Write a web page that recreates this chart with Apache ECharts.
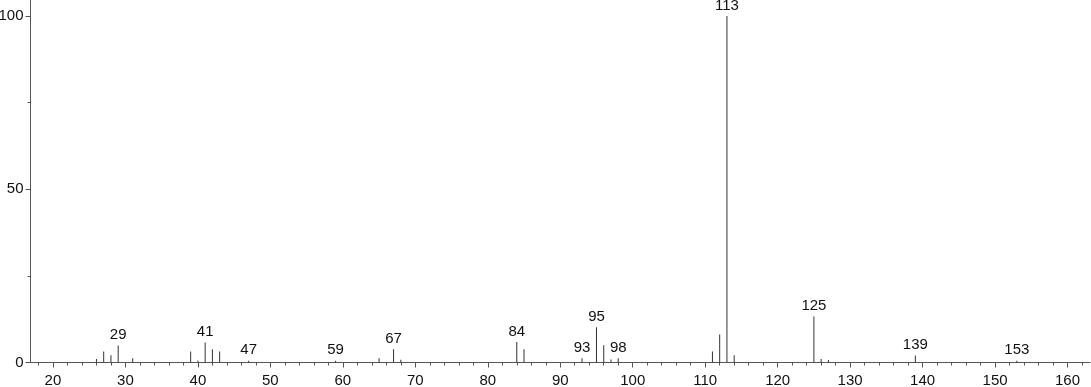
<!DOCTYPE html>
<html>
<head>
<meta charset="utf-8">
<script src="https://cdn.jsdelivr.net/npm/echarts@6/dist/echarts.min.js"></script>
<style>html,body{margin:0;padding:0;background:#fff;}#c{width:1091px;height:387px;}</style>
</head>
<body>
<div id="c"></div>
<script>
const mz = [26, 27, 28, 29, 31, 39, 40, 41, 42, 43, 47, 59, 65, 67, 68, 84, 85, 93, 95, 96, 97, 98, 111, 112, 113, 114, 125, 126, 127, 139, 153];
const intensity = [1.0, 3.2, 2.1, 4.9, 1.2, 3.2, 0.6, 5.8, 3.8, 3.2, 0.5, 0.5, 1.2, 3.8, 0.8, 5.9, 3.8, 1.2, 10.2, 5.0, 0.9, 1.2, 3.2, 8.1, 100, 2.1, 13.3, 1.0, 0.7, 2.0, 0.5];
const labeledPeaks = [29, 41, 47, 59, 67, 84, 93, 95, 98, 113, 125, 139, 153];
const xMajorTicks = [20, 30, 40, 50, 60, 70, 80, 90, 100, 110, 120, 130, 140, 150, 160];
const xMinorTicks = [18, 22, 24, 26, 28, 32, 34, 36, 38, 42, 44, 46, 48, 52, 54, 56, 58, 62, 64, 66, 68, 72, 74, 76, 78, 82, 84, 86, 88, 92, 94, 96, 98, 102, 104, 106, 108, 112, 114, 116, 118, 122, 124, 126, 128, 132, 134, 136, 138, 142, 144, 146, 148, 152, 154, 156, 158, 162];
const yMajorTicks = [0, 50, 100];
const yMinorTicks = [25, 75];

const axisColor = '#555';
const textStyle = { fontFamily: 'Liberation Sans, Arial, sans-serif', fontSize: 15, color: '#111' };

const data = mz.map((m, i) => {
  const item = { value: [m, intensity[i]] };
  if (labeledPeaks.includes(m)) {
    item.label = { show: true, position: 'top', distance: 3, formatter: String(m), ...textStyle };
  }
  return item;
});

const chart = echarts.init(document.getElementById('c'), null, { renderer: 'canvas' });
chart.setOption({
  animation: false,
  backgroundColor: '#fff',
  grid: { left: 30.5, right: 1, top: 0, bottom: 24.5, containLabel: false, outerBoundsMode: 'none' },
  xAxis: [
    {
      type: 'value', min: 16.9, max: 163.1, position: 'bottom',
      axisLine: { show: true, onZero: false, lineStyle: { color: axisColor, width: 1 } },
      axisTick: { show: true, length: 5, customValues: xMajorTicks, lineStyle: { color: axisColor } },
      axisLabel: { show: true, customValues: xMajorTicks, margin: 11, ...textStyle },
      splitLine: { show: false }
    },
    {
      type: 'value', min: 16.9, max: 163.1, position: 'bottom',
      axisLine: { show: false, onZero: false },
      axisTick: { show: true, length: 3, customValues: xMinorTicks, lineStyle: { color: axisColor } },
      axisLabel: { show: false },
      splitLine: { show: false }
    }
  ],
  yAxis: [
    {
      type: 'value', min: 0, max: 104.6, position: 'left',
      axisLine: { show: true, onZero: false, lineStyle: { color: axisColor, width: 1 } },
      axisTick: { show: true, length: 5, customValues: yMajorTicks, lineStyle: { color: axisColor } },
      axisLabel: { show: true, customValues: yMajorTicks, margin: 7, ...textStyle },
      splitLine: { show: false }
    },
    {
      type: 'value', min: 0, max: 104.6, position: 'left',
      axisLine: { show: false, onZero: false },
      axisTick: { show: true, length: 3, customValues: yMinorTicks, lineStyle: { color: axisColor } },
      axisLabel: { show: false },
      splitLine: { show: false }
    }
  ],
  series: [
    {
      type: 'bar', xAxisIndex: 0, yAxisIndex: 0,
      barWidth: 1,
      itemStyle: { color: '#333' },
      data: data
    }
  ]
});
</script>
</body>
</html>
